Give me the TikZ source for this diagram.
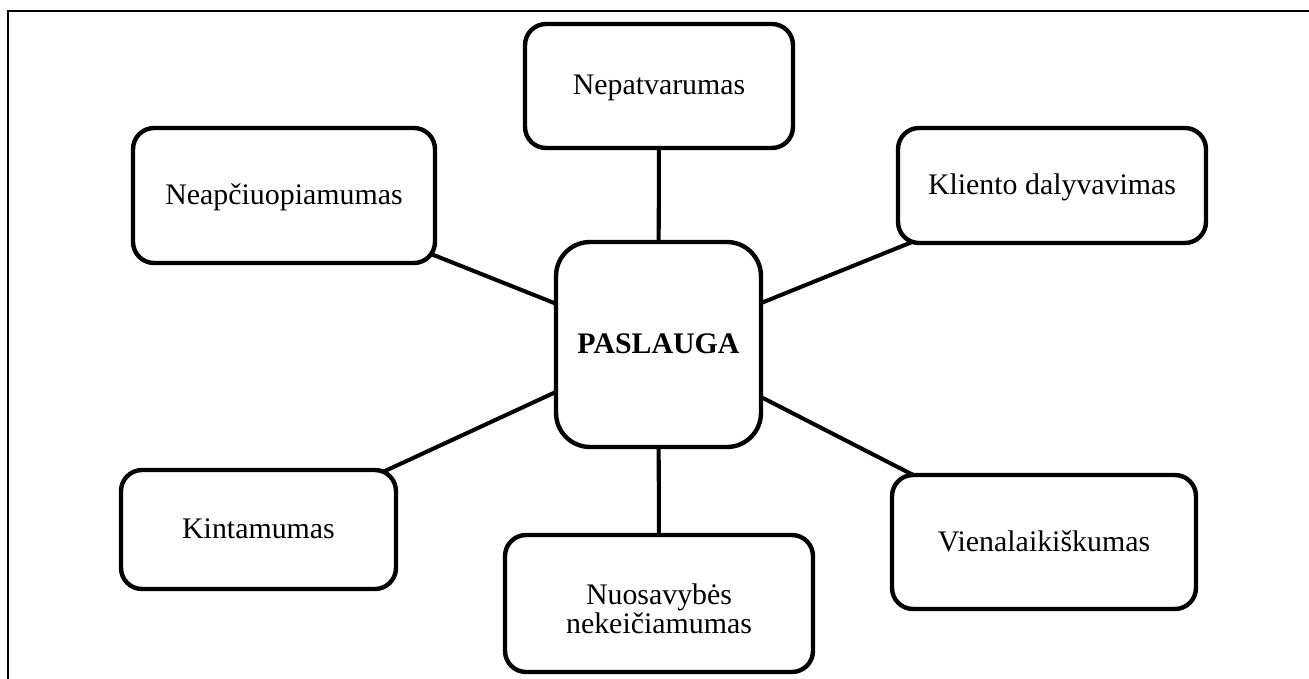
\documentclass[tikz,border=0pt]{standalone}
\usepackage{fontspec}
\setmainfont{Liberation Serif}
\usetikzlibrary{backgrounds}
\begin{document}
\begin{tikzpicture}[x=0.02cm, y=-0.02cm,
  box/.style={draw, line width=2.5pt, fill=white, inner sep=0pt,
    rounded corners=0.42cm, font=\fontsize{17}{16}\selectfont},
  oneline/.style={box, text height=0.52cm, text depth=0.16cm},
  twoline/.style={box, align=center},
  link/.style={line width=2.3pt},
  frameline/.style={line width=1.2pt}]
\useasboundingbox (0,0) rectangle (1309,679);

% central concept
\node[oneline, rounded corners=0.68cm, minimum width=4.10cm, minimum height=4.10cm,
      font=\fontsize{17}{16}\selectfont\bfseries] (pas) at (658.5,344.5) {PASLAUGA};

% surrounding characteristics
\node[oneline, minimum width=5.36cm, minimum height=2.48cm] (nep)  at (659,86)     {Nepatvarumas};
\node[oneline, minimum width=6.04cm, minimum height=2.70cm] (neap) at (284,195.5)  {Neapčiuopiamumas};
\node[oneline, minimum width=6.16cm, minimum height=2.30cm] (kli)  at (1052,185.5) {Kliento dalyvavimas};
\node[oneline, minimum width=5.50cm, minimum height=2.38cm] (kin)  at (258.5,529.5) {Kintamumas};
\node[twoline, minimum width=6.16cm, minimum height=2.74cm] (nuo)  at (659,603.5)
  {\rule{0pt}{0.62cm}Nuosavybės\\[0.03cm]nekeičiamumas};
\node[oneline, minimum width=6.08cm, minimum height=2.68cm] (vie)  at (1044,542)   {Vienalaikiškumas};

% spokes run centre to centre, hidden under the filled boxes
\begin{scope}[on background layer]
  \draw[link] (pas.center) -- (nep.center);
  \draw[link] (pas.center) -- (neap.center);
  \draw[link] (pas.center) -- (kli.center);
  \draw[link] (pas.center) -- (kin.center);
  \draw[link] (pas.center) -- (nuo.center);
  \draw[link] (pas.center) -- (vie.center);
\end{scope}

% cell border along the top and left
\coordinate (fr) at (1309,11);
\coordinate (fc) at (8,11);
\coordinate (fb) at (8,679);
\draw[frameline] (fr) -- (fc) -- (fb);
\end{tikzpicture}
\end{document}
